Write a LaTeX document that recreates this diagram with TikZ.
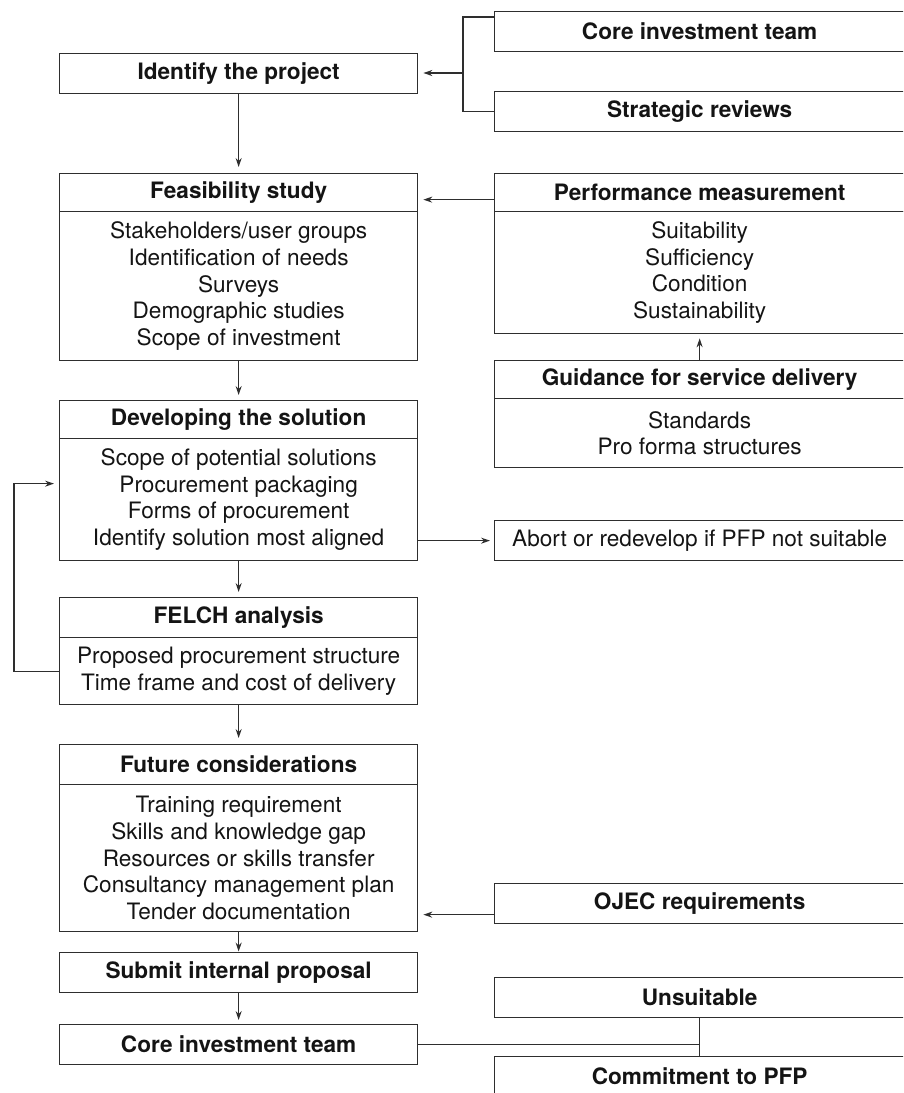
\documentclass[tikz,border=0pt]{standalone}
\usepackage{fontspec}
\setmainfont{TeX Gyre Heros}
\usetikzlibrary{arrows.meta,calc}
\begin{document}
\begin{tikzpicture}[x=1pt,y=-1pt,
  every node/.style={font=\fontsize{22.6}{26.7}\selectfont, text=black!92},
  hd/.style={font=\fontsize{22.6}{26.7}\selectfont\bfseries},
  boxbase/.style={draw=black!82, line width=1.3pt, inner sep=0pt, align=center, anchor=north west},
  lbox/.style={boxbase, minimum width=358pt, minimum height=#1},
  lbox/.default=40pt,
  rbox/.style={boxbase, minimum width=410pt, minimum height=#1},
  rbox/.default=40pt,
  line/.style={draw=black!82, line width=1.3pt},
  arr/.style={line, -{Stealth[length=9pt,width=6pt]}, shorten >=5pt}
]
\useasboundingbox (0,0) rectangle (903,1093);
\clip (0,0) rectangle (903,1093);

% left column: main process
\node[lbox=40pt, hd] (ident) at (59,53) {Identify the project};
\node[lbox=38pt, hd] (feash) at (59,173) {Feasibility study};
\node[lbox=149pt] (feasb) at (59,211) {Stakeholders/user groups\\Identification of needs\\Surveys\\Demographic studies\\Scope of investment};
\node[lbox=38pt, hd] (devh) at (59,400) {Developing the solution};
\node[lbox=122pt] (devb) at (59,438) {Scope of potential solutions\\Procurement packaging\\Forms of procurement\\Identify solution most aligned};
\node[lbox=40pt, hd] (felh) at (59,597) {FELCH analysis};
\node[lbox=67pt] (felb) at (59,637) {Proposed procurement structure\\Time frame and cost of delivery};
\node[lbox=40pt, hd] (futh) at (59,744) {Future considerations};
\node[lbox=147pt] (futb) at (59,784) {Training requirement\\Skills and knowledge gap\\Resources or skills transfer\\Consultancy management plan\\Tender documentation};
\node[lbox=40pt, hd] (submit) at (59,952) {Submit internal proposal};
\node[lbox=40pt, hd] (cit2) at (59,1024) {Core investment team};

% right column: inputs and outcomes
\node[rbox=40pt, hd] (cit) at (494,11) {Core investment team};
\node[rbox=40pt, hd] (strat) at (494,91) {Strategic reviews};
\node[rbox=38pt, hd] (pmh) at (494,173) {Performance measurement};
\node[rbox=122pt] (pmb) at (494,211) {Suitability\\Sufficiency\\Condition\\Sustainability};
\node[rbox=38pt, hd] (gdh) at (494,360) {Guidance for service delivery};
\node[rbox=69pt] (gdb) at (494,398) {Standards\\Pro forma structures};
\node[rbox=40pt] (abort) at (494,520) {Abort or redevelop if PFP not suitable};
\node[rbox=40pt, hd] (ojec) at (494,883) {OJEC requirements};
\node[rbox=40pt, hd] (unsuit) at (494,977) {Unsuitable};
\node[rbox=40pt, hd] (commit) at (494,1056) {Commitment to PFP};

% helper points
\coordinate (cittap) at ([yshift=-6pt]cit.north west);
\coordinate (brx) at (463,73);
\coordinate (pmin) at ([yshift=-7pt]pmh.west);
\coordinate (loopx) at (14,0);
\coordinate (devin) at ([yshift=16pt]devb.west);
\coordinate (ojin) at ([yshift=-11pt]ojec.west);

% connectors
\draw[line] (cittap) -| (brx |- strat.west) -- (strat.west);
\draw[arr] (brx) -- (brx -| ident.east);
\draw[arr, shorten >=6pt] (ident.south) -- (feash.north);
\draw[arr] (pmin) -- (pmin -| feash.east);
\draw[arr, shorten >=4pt] (gdh.north) -- (pmb.south);
\draw[arr] (feasb.south) -- (devh.north);
\draw[arr, shorten >=4pt] (devb.east |- abort.west) -- (abort.west);
\draw[arr] (devb.south) -- (felh.north);
\draw[arr] (felb.west) -| (loopx |- devin) -- (devin);
\draw[arr, shorten >=6pt] (felb.south) -- (futh.north);
\draw[arr] (ojin) -- (ojin -| futb.east);
\draw[arr, shorten >=0.5pt] (futb.south) -- (submit.north);
\draw[arr, shorten >=4pt] (submit.south) -- (cit2.north);
\draw[line] (cit2.east) -- (cit2.east -| unsuit.south);
\draw[line] (unsuit.south) -- (commit.north);
\end{tikzpicture}
\end{document}
